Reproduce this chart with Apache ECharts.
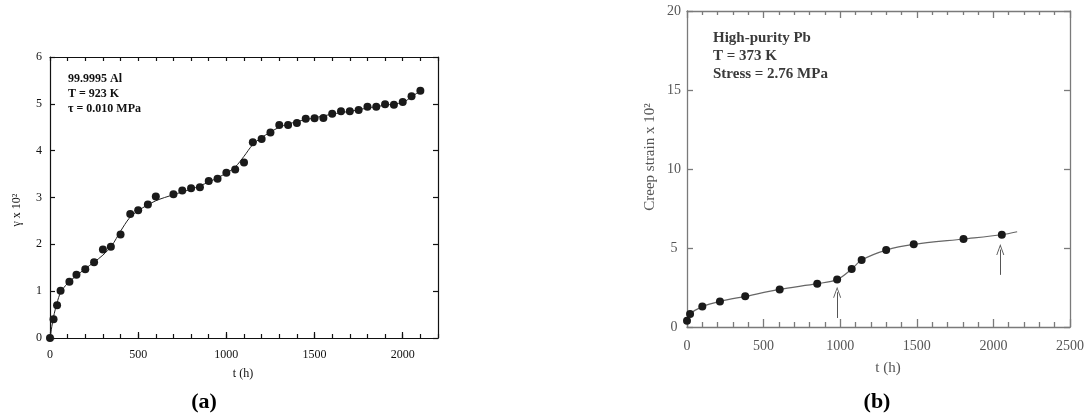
<!DOCTYPE html>
<html>
<head>
<meta charset="utf-8">
<script src="https://cdn.jsdelivr.net/npm/echarts@6/dist/echarts.min.js"></script>
<style>
  html, body { margin: 0; padding: 0; background: #fff; }
  #chart { width: 1087px; height: 416px; }
</style>
</head>
<body>
<div id="chart"></div>
<script>
  // (a) 99.9995 Al, T = 923 K
  const aTime = [0, 20, 40, 60, 110, 150, 200, 250, 300, 345, 400, 455, 500, 555, 600, 700, 750, 800, 850, 900, 950, 1000, 1050, 1100, 1150, 1200, 1250, 1300, 1350, 1400, 1450, 1500, 1550, 1600, 1650, 1700, 1750, 1800, 1850, 1900, 1950, 2000, 2050, 2100];
  const aStrain = [0, 0.40, 0.70, 1.01, 1.20, 1.35, 1.47, 1.62, 1.89, 1.95, 2.21, 2.65, 2.73, 2.85, 3.02, 3.07, 3.15, 3.20, 3.22, 3.35, 3.40, 3.53, 3.60, 3.75, 4.18, 4.25, 4.39, 4.55, 4.55, 4.59, 4.68, 4.69, 4.70, 4.79, 4.84, 4.84, 4.87, 4.94, 4.94, 4.99, 4.98, 5.04, 5.16, 5.28];
  // fitted curve drawn through the data
  const aFitTime = [0, 20, 40, 60, 100, 150, 200, 250, 300, 350, 400, 450, 500, 600, 700, 800, 900, 1000, 1050, 1100, 1150, 1200, 1300, 1400, 1500, 1600, 1700, 1800, 1900, 2000, 2050, 2110];
  const aFitStrain = [0, 0.45, 0.75, 0.97, 1.17, 1.33, 1.48, 1.62, 1.77, 1.97, 2.28, 2.56, 2.72, 2.93, 3.06, 3.18, 3.33, 3.52, 3.65, 3.88, 4.13, 4.28, 4.50, 4.62, 4.70, 4.78, 4.84, 4.91, 4.97, 5.03, 5.15, 5.30];

  // (b) High-purity Pb, T = 373 K
  const bTime = [0, 20, 100, 215, 380, 605, 850, 980, 1075, 1140, 1300, 1480, 1805, 2055];
  const bStrain = [0.40, 0.82, 1.29, 1.62, 1.94, 2.38, 2.74, 3.00, 3.67, 4.24, 4.87, 5.23, 5.57, 5.84];
  const bFitTime = [0, 20, 100, 215, 380, 605, 850, 980, 1075, 1140, 1300, 1480, 1805, 2055, 2155];
  const bFitStrain = [0.40, 0.82, 1.29, 1.62, 1.94, 2.38, 2.74, 3.00, 3.67, 4.24, 4.87, 5.23, 5.57, 5.84, 6.03];
  // arrows under two of the points
  const bArrowTime = [980, 2045];
  const bArrowFrom = [0.57, 3.3];
  const bArrowTo = [2.2, 4.9];

  const serif = '"Liberation Serif", "DejaVu Serif", serif';
  const inkA = '#111';
  const lineB = '#7a7a7a';
  const textB = '#555';
  const plain = (v) => String(v);

  function pairs(xs, ys) {
    return xs.map((x, i) => [x, ys[i]]);
  }

  const chart = echarts.init(document.getElementById('chart'));

  const option = {
    animation: false,
    grid: [
      { left: 50, top: 57, width: 388, height: 281 },
      { left: 687, top: 11, width: 387, height: 316 }
    ],
    xAxis: [
      // (a) bottom, major ticks + labels
      {
        gridIndex: 0, type: 'value', min: 0, max: 2200, interval: 500, position: 'bottom',
        axisLine: { onZero: false, lineStyle: { color: inkA, width: 1.2 } },
        axisTick: { inside: true, length: 6, lineStyle: { color: inkA, width: 1.2 } },
        axisLabel: { color: inkA, fontFamily: serif, fontSize: 12, margin: 11, showMaxLabel: false, formatter: plain },
        splitLine: { show: false }
      },
      // (a) bottom, minor ticks
      {
        gridIndex: 0, type: 'value', min: 0, max: 2200, interval: 100, position: 'bottom',
        axisLine: { show: false, onZero: false },
        axisTick: { inside: true, length: 4, lineStyle: { color: inkA, width: 1.2 } },
        axisLabel: { show: false },
        splitLine: { show: false }
      },
      // (a) top
      {
        gridIndex: 0, type: 'value', min: 0, max: 2200, interval: 100, position: 'top',
        axisLine: { onZero: false, lineStyle: { color: inkA, width: 1.2 } },
        axisTick: { inside: true, length: 4, lineStyle: { color: inkA, width: 1.2 } },
        axisLabel: { show: false },
        splitLine: { show: false }
      },
      // (b) bottom
      {
        gridIndex: 1, type: 'value', min: 0, max: 2500, interval: 500, position: 'bottom',
        axisLine: { onZero: false, lineStyle: { color: lineB, width: 1.3 } },
        axisTick: { inside: true, length: 8, lineStyle: { color: lineB, width: 1.3 } },
        minorTick: { show: true, splitNumber: 5, length: 5, lineStyle: { color: lineB, width: 1.3 } },
        axisLabel: { color: textB, fontFamily: serif, fontSize: 14, margin: 12, formatter: plain },
        splitLine: { show: false }
      },
      // (b) top
      {
        gridIndex: 1, type: 'value', min: 0, max: 2500, interval: 500, position: 'top',
        axisLine: { onZero: false, lineStyle: { color: lineB, width: 1.3 } },
        axisTick: { inside: true, length: 7, lineStyle: { color: lineB, width: 1.3 } },
        minorTick: { show: true, splitNumber: 5, length: 4, lineStyle: { color: lineB, width: 1.3 } },
        axisLabel: { show: false },
        splitLine: { show: false }
      }
    ],
    yAxis: [
      {
        gridIndex: 0, type: 'value', min: 0, max: 6, interval: 1, position: 'left',
        axisLine: { show: true, onZero: false, lineStyle: { color: inkA, width: 1.2 } },
        axisTick: { show: true, inside: true, length: 5, lineStyle: { color: inkA, width: 1.2 } },
        axisLabel: { color: inkA, fontFamily: serif, fontSize: 12, margin: 8 },
        splitLine: { show: false }
      },
      {
        gridIndex: 0, type: 'value', min: 0, max: 6, interval: 1, position: 'right',
        axisLine: { show: true, onZero: false, lineStyle: { color: inkA, width: 1.2 } },
        axisTick: { show: true, inside: true, length: 5, lineStyle: { color: inkA, width: 1.2 } },
        axisLabel: { show: false },
        splitLine: { show: false }
      },
      {
        gridIndex: 1, type: 'value', min: 0, max: 20, interval: 5, position: 'left',
        axisLine: { show: true, onZero: false, lineStyle: { color: lineB, width: 1.3 } },
        axisTick: { show: true, inside: true, length: 6, lineStyle: { color: lineB, width: 1.3 } },
        axisLabel: { color: textB, fontFamily: serif, fontSize: 14, margin: 13, align: 'center' },
        splitLine: { show: false }
      },
      {
        gridIndex: 1, type: 'value', min: 0, max: 20, interval: 5, position: 'right',
        axisLine: { show: true, onZero: false, lineStyle: { color: lineB, width: 1.3 } },
        axisTick: { show: true, inside: true, length: 6, lineStyle: { color: lineB, width: 1.3 } },
        axisLabel: { show: false },
        splitLine: { show: false }
      }
    ],
    series: [
      {
        name: 'a fit', type: 'line', xAxisIndex: 0, yAxisIndex: 0,
        data: pairs(aFitTime, aFitStrain), smooth: 0.3, showSymbol: false,
        lineStyle: { color: '#222', width: 1 }, z: 2
      },
      {
        name: 'a data', type: 'scatter', xAxisIndex: 0, yAxisIndex: 0,
        data: pairs(aTime, aStrain), symbolSize: 8,
        itemStyle: { color: '#1a1a1a', opacity: 1 }, z: 3
      },
      {
        name: 'b fit', type: 'line', xAxisIndex: 3, yAxisIndex: 2,
        data: pairs(bFitTime, bFitStrain), smooth: 0.3, showSymbol: false,
        lineStyle: { color: '#666', width: 1.2 }, z: 2
      },
      {
        name: 'b data', type: 'scatter', xAxisIndex: 3, yAxisIndex: 2,
        data: pairs(bTime, bStrain), symbolSize: 8,
        itemStyle: { color: '#1a1a1a', opacity: 1 }, z: 3,
        markLine: {
          silent: true,
          symbol: ['none', 'path://M0,12 L6,0 L12,12 L10.6,12 L6,2.6 L1.4,12 Z'],
          symbolSize: [8, 11],
          label: { show: false },
          lineStyle: { color: '#555', width: 1, type: 'solid' },
          data: bArrowTime.map((t, i) => [
            { coord: [t, bArrowFrom[i]] },
            { coord: [t, bArrowTo[i]] }
          ])
        }
      }
    ],
    graphic: [
      {
        type: 'text', left: 68, top: 71,
        style: {
          text: '99.9995 Al\nT = 923 K\nτ = 0.010 MPa',
          font: 'bold 12px ' + serif, lineHeight: 15, fill: inkA
        }
      },
      {
        type: 'text', x: 17, y: 210, rotation: Math.PI / 2,
        style: { text: 'γ x 10²', font: '12px ' + serif, fill: inkA, align: 'center', verticalAlign: 'middle' }
      },
      {
        type: 'text', x: 243, y: 374,
        style: { text: 't (h)', font: '12px ' + serif, fill: inkA, align: 'center', verticalAlign: 'middle' }
      },
      {
        type: 'text', x: 204, y: 402,
        style: { text: '(a)', font: 'bold 22px ' + serif, fill: '#000', align: 'center', verticalAlign: 'middle' }
      },
      {
        type: 'text', left: 713, top: 29,
        style: {
          text: 'High-purity Pb\nT = 373 K\nStress = 2.76 MPa',
          font: 'bold 15px ' + serif, lineHeight: 18, fill: '#3a3a3a'
        }
      },
      {
        type: 'text', x: 650, y: 157, rotation: Math.PI / 2,
        style: { text: 'Creep strain x 10²', font: '15px ' + serif, fill: textB, align: 'center', verticalAlign: 'middle' }
      },
      {
        type: 'text', x: 888, y: 368,
        style: { text: 't (h)', font: '15px ' + serif, fill: textB, align: 'center', verticalAlign: 'middle' }
      },
      {
        type: 'text', x: 877, y: 402,
        style: { text: '(b)', font: 'bold 22px ' + serif, fill: '#000', align: 'center', verticalAlign: 'middle' }
      }
    ]
  };

  chart.setOption(option);
</script>
</body>
</html>
